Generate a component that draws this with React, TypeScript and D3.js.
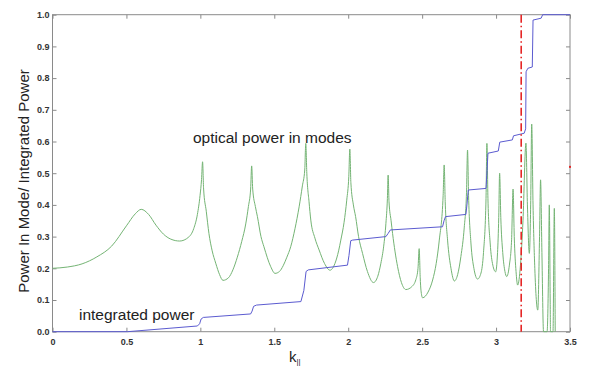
// 模式功率 / 积分功率 曲线图
import React, { useRef, useEffect } from 'react';
import * as d3 from 'd3';

// 各模式中的光功率 [k, power]
const opticalPower: [number, number][] = [
  [0, 0.2], [0.1, 0.204], [0.2, 0.214], [0.3, 0.236], [0.4, 0.27], [0.5, 0.334],
  [0.56, 0.372], [0.6, 0.386], [0.65, 0.37], [0.7, 0.336], [0.75, 0.308], [0.8, 0.292],
  [0.86, 0.286], [0.92, 0.298], [0.955, 0.325], [0.98, 0.37], [0.998, 0.43], [1.008, 0.48],
  [1.015, 0.536], [1.022, 0.45], [1.04, 0.38], [1.058, 0.31], [1.08, 0.255], [1.104, 0.216],
  [1.13, 0.18], [1.153, 0.162], [1.19, 0.17], [1.22, 0.195], [1.25, 0.235], [1.28, 0.285],
  [1.307, 0.34], [1.325, 0.395], [1.34, 0.45], [1.347, 0.523], [1.354, 0.45], [1.372, 0.395],
  [1.386, 0.363], [1.41, 0.3], [1.43, 0.268], [1.476, 0.205], [1.505, 0.184], [1.535, 0.19],
  [1.56, 0.208], [1.585, 0.235], [1.611, 0.268], [1.64, 0.325], [1.668, 0.394], [1.69, 0.46],
  [1.706, 0.51], [1.713, 0.594], [1.72, 0.5], [1.735, 0.41], [1.747, 0.352], [1.775, 0.295],
  [1.803, 0.258], [1.84, 0.215], [1.877, 0.194], [1.91, 0.215], [1.935, 0.255], [1.95, 0.289],
  [1.972, 0.345], [1.99, 0.415], [2.004, 0.49], [2.011, 0.576], [2.018, 0.47], [2.035, 0.4],
  [2.05, 0.363], [2.07, 0.3], [2.097, 0.247], [2.13, 0.19], [2.171, 0.155], [2.2, 0.175],
  [2.221, 0.216], [2.24, 0.27], [2.255, 0.342], [2.265, 0.42], [2.27, 0.494], [2.276, 0.41],
  [2.29, 0.35], [2.3, 0.31], [2.334, 0.205], [2.36, 0.155], [2.39, 0.133], [2.43, 0.142],
  [2.458, 0.165], [2.472, 0.2], [2.48, 0.262], [2.487, 0.17], [2.492, 0.131], [2.503, 0.107],
  [2.54, 0.125], [2.571, 0.163], [2.595, 0.215], [2.616, 0.289], [2.642, 0.43], [2.649, 0.526],
  [2.656, 0.41], [2.672, 0.289], [2.695, 0.2], [2.718, 0.16], [2.74, 0.18], [2.762, 0.237],
  [2.785, 0.33], [2.8, 0.44], [2.807, 0.573], [2.814, 0.43], [2.83, 0.28], [2.85, 0.2],
  [2.875, 0.166], [2.898, 0.185], [2.915, 0.25], [2.932, 0.42], [2.938, 0.594], [2.945, 0.42],
  [2.96, 0.28], [2.978, 0.21], [2.997, 0.189], [3.01, 0.25], [3.018, 0.36], [3.024, 0.5],
  [3.032, 0.36], [3.045, 0.25], [3.06, 0.19], [3.072, 0.174], [3.09, 0.21], [3.105, 0.29],
  [3.115, 0.45], [3.123, 0.3], [3.135, 0.19], [3.146, 0.147], [3.165, 0.21], [3.182, 0.35],
  [3.202, 0.595], [3.212, 0.4], [3.225, 0.247], [3.234, 0.4], [3.241, 0.655], [3.25, 0.4],
  [3.262, 0.2], [3.282, 0.068], [3.294, 0.3], [3.301, 0.479], [3.31, 0.25], [3.321, 0],
  [3.345, 0], [3.355, 0.2], [3.36, 0.4], [3.366, 0.1], [3.368, 0], [3.385, 0], [3.394, 0.389],
  [3.4, 0],
];

// 积分功率 [k, power]
const integratedPower: [number, number][] = [
  [0, 0], [0.506, 0], [0.98, 0.018], [0.995, 0.025], [1.005, 0.04], [1.02, 0.045],
  [1.34, 0.056], [1.35, 0.065], [1.36, 0.08], [1.38, 0.084], [1.68, 0.095], [1.7, 0.13],
  [1.715, 0.19], [1.73, 0.195], [1.995, 0.21], [2.005, 0.24], [2.017, 0.287], [2.03, 0.289],
  [2.255, 0.3], [2.27, 0.31], [2.285, 0.321], [2.638, 0.331], [2.648, 0.35], [2.658, 0.363],
  [2.796, 0.37], [2.803, 0.4], [2.812, 0.447], [2.932, 0.452], [2.938, 0.5], [2.945, 0.563],
  [3.015, 0.57], [3.025, 0.598], [3.11, 0.605], [3.118, 0.618], [3.19, 0.626], [3.2, 0.64],
  [3.203, 0.82], [3.215, 0.831], [3.245, 0.835], [3.25, 0.983], [3.305, 0.989], [3.315, 1],
  [3.5, 1],
];

const xTicks = [0, 0.5, 1, 1.5, 2, 2.5, 3, 3.5];
const yTicks = [0, 0.1, 0.2, 0.3, 0.4, 0.5, 0.6, 0.7, 0.8, 0.9, 1.0];
const cutoffK = 3.17;
const strayMark: [number, number] = [3.5, 0.52];

const width = 590;
const height = 366;
const marginTop = 14.7;
const marginRight = 20;
const marginBottom = 34.3;
const marginLeft = 52.5;

const App: React.FC = () => {
  const svgRef = useRef<SVGSVGElement>(null);

  useEffect(() => {
    if (!svgRef.current) return;
    const svg = d3.select(svgRef.current);
    svg.selectAll('*').remove();

    const x = d3.scaleLinear().domain([0, 3.5]).range([marginLeft, width - marginRight]);
    const y = d3.scaleLinear().domain([0, 1]).range([height - marginBottom, marginTop]);

    svg.append('rect').attr('width', width).attr('height', height).attr('fill', '#fff');

    const styleAxis = (g: d3.Selection<SVGGElement, unknown, null, undefined>) => {
      g.select('.domain').remove();
      g.selectAll('.tick line').attr('stroke', '#8a8a8a');
      g.selectAll('.tick text')
        .attr('fill', '#333')
        .attr('font-family', 'Arial, "Liberation Sans", sans-serif')
        .attr('font-size', 9)
        .attr('font-weight', 'bold');
    };
    const noLabel = () => '';

    // 坐标轴（刻度朝内）
    svg.append('g')
      .attr('transform', `translate(0,${y(0)})`)
      .call(d3.axisBottom(x).tickValues(xTicks).tickSizeInner(-4).tickSizeOuter(0).tickPadding(7).tickFormat(d3.format('')))
      .call(styleAxis);
    svg.append('g')
      .attr('transform', `translate(0,${y(1)})`)
      .call(d3.axisTop(x).tickValues(xTicks).tickSizeInner(-4).tickSizeOuter(0).tickFormat(noLabel))
      .call(styleAxis);
    svg.append('g')
      .attr('transform', `translate(${x(0)},0)`)
      .call(d3.axisLeft(y).tickValues(yTicks).tickSizeInner(-4).tickSizeOuter(0).tickPadding(3).tickFormat(d3.format('.1f')))
      .call(styleAxis);
    svg.append('g')
      .attr('transform', `translate(${x(3.5)},0)`)
      .call(d3.axisRight(y).tickValues(yTicks).tickSizeInner(-4).tickSizeOuter(0).tickFormat(noLabel))
      .call(styleAxis);

    svg.append('rect')
      .attr('x', x(0)).attr('y', y(1))
      .attr('width', x(3.5) - x(0)).attr('height', y(0) - y(1))
      .attr('fill', 'none').attr('stroke', '#8a8a8a').attr('stroke-width', 1);

    const line = d3.line<[number, number]>().x(d => x(d[0])).y(d => y(d[1]));

    svg.append('path')
      .datum(opticalPower)
      .attr('d', line.curve(d3.curveMonotoneX))
      .attr('fill', 'none')
      .attr('stroke', '#74b474')
      .attr('stroke-width', 1);

    svg.append('path')
      .datum(integratedPower)
      .attr('d', line.curve(d3.curveLinear))
      .attr('fill', 'none')
      .attr('stroke', '#5b5bd0')
      .attr('stroke-width', 1);

    svg.append('line')
      .attr('x1', x(cutoffK)).attr('x2', x(cutoffK))
      .attr('y1', y(1)).attr('y2', y(0))
      .attr('stroke', '#e52626')
      .attr('stroke-width', 1.6)
      .attr('stroke-dasharray', '8,3,1.5,3');

    svg.append('rect')
      .attr('x', x(strayMark[0]) - 1).attr('y', y(strayMark[1]) - 1)
      .attr('width', 2).attr('height', 2)
      .attr('fill', '#e02828');

    const font = 'Arial, "Liberation Sans", sans-serif';
    svg.append('text')
      .attr('x', 193).attr('y', 142.5)
      .attr('font-family', font).attr('font-size', 15.5).attr('fill', '#222')
      .text('optical power in modes');
    svg.append('text')
      .attr('x', 79).attr('y', 320)
      .attr('font-family', font).attr('font-size', 15.5).attr('fill', '#222')
      .text('integrated power');

    svg.append('text')
      .attr('transform', `translate(28.5,181) rotate(-90)`)
      .attr('text-anchor', 'middle')
      .attr('font-family', font).attr('font-size', 15).attr('fill', '#222')
      .text('Power In Mode/ Integrated Power');

    const xl = svg.append('text')
      .attr('x', 289).attr('y', 362)
      .attr('font-family', font).attr('font-size', 15).attr('fill', '#222');
    xl.append('tspan').text('k');
    xl.append('tspan').attr('font-size', 8).attr('dy', 2).text('||');
  }, []);

  return (
    <svg ref={svgRef} width={width} height={height}
      style={{ position: 'absolute', left: 0, top: 0, display: 'block' }} />
  );
};

export default App;
